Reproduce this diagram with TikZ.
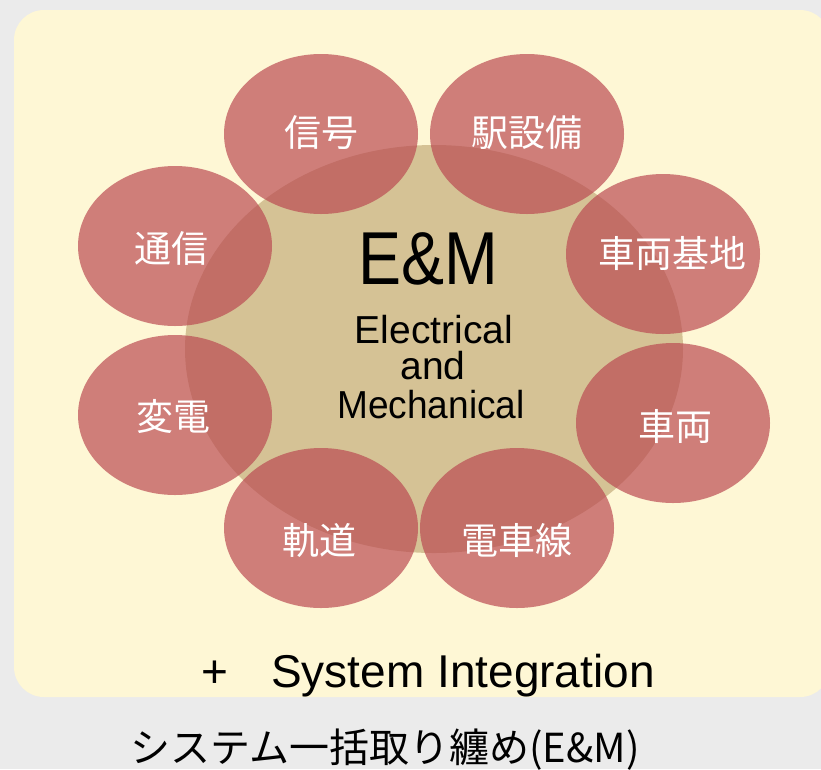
\documentclass[tikz,border=0pt]{standalone}
\usepackage{fontspec}
\setmainfont{Liberation Sans}
\newfontfamily\jp{Noto Sans CJK JP}
\newfontfamily\narrowsans[FakeStretch=0.86]{Liberation Sans}
\newfontfamily\slimsans[FakeStretch=0.95]{Liberation Sans}
\definecolor{bggray}{RGB}{235,235,235}
\definecolor{paneyellow}{RGB}{254,247,213}
\definecolor{coretan}{RGB}{213,194,149}
\definecolor{petalred}{RGB}{186,73,81}
\tikzset{
  petal/.style={ellipse, minimum width=194pt, minimum height=160pt, fill=petalred, fill opacity=0.69, draw=none, inner sep=0pt},
  petallabel/.style={text=white, font=\fontsize{37}{37}\selectfont\jp, inner sep=0pt},
  blacktext/.style={text=black, inner sep=0pt}
}
\usetikzlibrary{shapes.geometric}
\begin{document}
\begin{tikzpicture}[x=1pt,y=-1pt]
\useasboundingbox (0,0) rectangle (821,769);
\fill[bggray] (0,0) rectangle (821,769);
\fill[paneyellow, rounded corners=30pt] (14,10) rectangle (830,697);
\node[ellipse, minimum width=498pt, minimum height=408pt, fill=coretan, inner sep=0pt] (core) at (434,349) {};
% petals
\node[petal] (p1) at (321,134) {};
\node[petal] (p2) at (527,134) {};
\node[petal] (p3) at (175,246) {};
\node[petal] (p4) at (663,254) {};
\node[petal] (p5) at (175,415) {};
\node[petal] (p6) at (673,423) {};
\node[petal] (p7) at (321,528) {};
\node[petal] (p8) at (517,528) {};
% labels
\node[petallabel] (l1) at (321,133) {信号};
\node[petallabel] (l2) at (527,133) {駅設備};
\node[petallabel] (l3) at (171,248) {通信};
\node[petallabel] (l4) at (672,253) {車両基地};
\node[petallabel] (l5) at (173,416) {変電};
\node[petallabel] (l6) at (675,427) {車両};
\node[petallabel] (l7) at (319,541) {軌道};
\node[petallabel] (l8) at (517,540) {電車線};
% core text
\node[blacktext, anchor=base, font=\fontsize{75}{75}\selectfont\narrowsans] (em) at (428,284) {E\&M};
\node[blacktext, anchor=base, font=\fontsize{39}{39}\selectfont] (t1) at (434,343) {Electrical};
\node[blacktext, anchor=base, font=\fontsize{39}{39}\selectfont] (t2) at (433,379) {and};
\node[blacktext, anchor=base, font=\fontsize{39}{39}\selectfont\slimsans] (t3) at (431,418) {Mechanical};
% bottom texts
\node[blacktext, anchor=base, font=\fontsize{46}{46}\selectfont] (plus) at (215,687) {+};
\node[blacktext, anchor=base west, font=\fontsize{46}{46}\selectfont] (si) at (271,687) {System Integration};
\node[blacktext, anchor=base, font=\fontsize{40}{40}\selectfont\jp] (cap) at (385,762) {システム一括取り纏め(E\&M)};
\end{tikzpicture}
\end{document}
